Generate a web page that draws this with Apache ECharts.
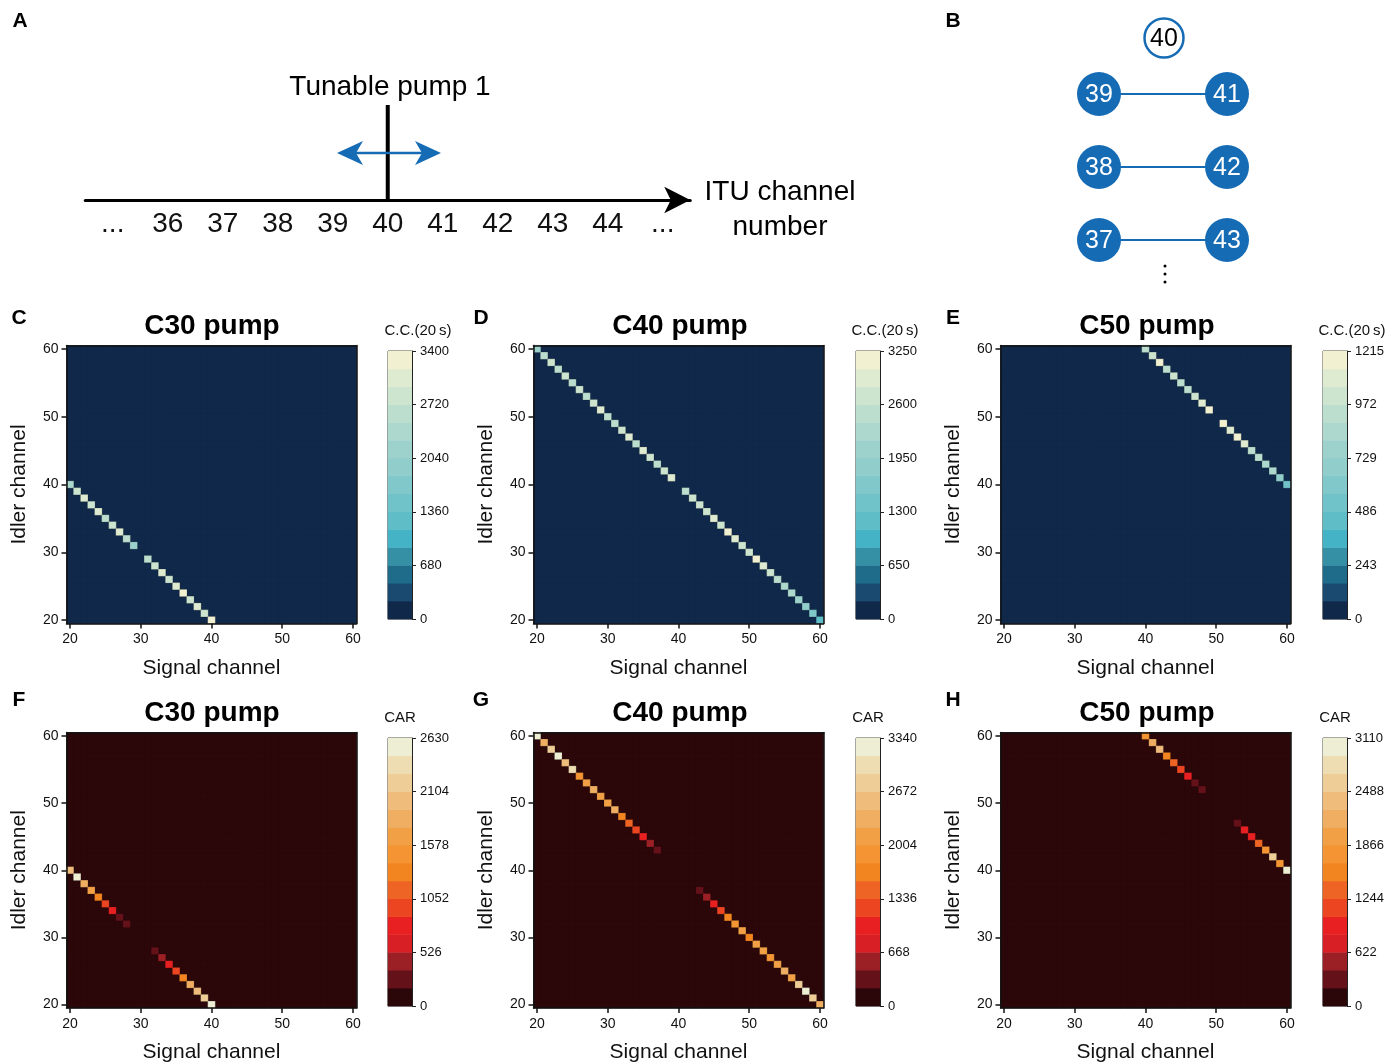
<!DOCTYPE html>
<html><head><meta charset="utf-8">
<script src="https://cdn.jsdelivr.net/npm/echarts@6/dist/echarts.min.js"></script>
<style>html,body{margin:0;padding:0;background:#fff}#chart{width:1390px;height:1064px}</style>
</head><body><div id="chart"></div>
<script>
// ---------- data ----------
const channels = [20,21,22,23,24,25,26,27,28,29,30,31,32,33,34,35,36,37,38,39,40,41,42,43,44,45,46,47,48,49,50,51,52,53,54,55,56,57,58,59,60];
const channelTicks = [20,30,40,50,60];
const ituLabels = ['...','36','37','38','39','40','41','42','43','44','...'];
const pumpLabelA = '40';
const bCenter = 40;
const bPairs = [[39,41],[38,42],[37,43]];

const ccC30Signal = [20,21,22,23,24,25,26,27,28,29,31,32,33,34,35,36,37,38,39,40];
const ccC30Value  = [2350,2850,3050,2850,3000,2600,2820,3050,2650,2250,2620,2850,3050,2880,3060,3300,2850,3080,2870,3400];
const ccC40Signal = [20,21,22,23,24,25,26,27,28,29,30,31,32,33,34,35,36,37,38,39,41,42,43,44,45,46,47,48,49,50,51,52,53,54,55,56,57,58,59,60];
const ccC40Value  = [2000,2400,2750,2550,2750,2550,2800,2550,2750,2950,2450,2550,2800,2950,2550,2950,2800,2550,2800,3000,2500,2600,2750,2750,2900,2800,3200,3000,2800,2750,3250,3000,2800,2550,2350,2300,2100,1900,1650,1200];
const ccC50Signal = [40,41,42,43,44,45,46,47,48,49,51,52,53,54,55,56,57,58,59,60];
const ccC50Value  = [940,1010,1180,930,1000,940,930,1020,1090,1215,1200,1100,1170,1120,940,920,860,850,700,500];

const carC30Signal = [20,21,22,23,24,25,26,27,28,32,33,34,35,36,37,38,39,40];
const carC30Value  = [2000,2630,1850,1680,1320,980,800,270,250,280,450,780,990,1400,1830,2020,2150,2500];
const carC40Signal = [20,21,22,23,24,25,26,27,28,29,30,31,32,33,34,35,36,37,43,44,45,46,47,48,49,50,51,52,53,54,55,56,57,58,59,60];
const carC40Value  = [3340,2330,2800,3250,2560,3050,1900,2120,2340,2100,2150,2350,1680,1450,1230,1000,560,330,320,540,1000,1230,1680,1900,2100,1700,2110,2130,1920,2120,2340,2140,2850,3300,2780,2350];
const carC50Signal = [40,41,42,43,44,45,46,47,48,53,54,55,56,57,58,59,60];
const carC50Value  = [1780,2180,2450,1560,1350,1140,940,300,280,290,930,900,1340,1760,2600,1800,3110];

const pumpChannels = [30,40,50];
const ccMax  = [3400,3250,1215];
const carMax = [2630,3340,3110];

const ccColors  = ['#10294a','#1a4a70','#1f6b8a','#3590a6','#45b3c6','#5ebdc7','#70c3c8','#80c8c9','#90cdcb','#9dd2cc','#acd8cd','#bcdece','#cde4cf','#dfebd0','#f1f0d1'];
const carColors = ['#2b0709','#65111a','#9b2026','#d81f26','#e82021','#ec4521','#ee6424','#f38520','#f49432','#f2a046','#f0ae62','#f0bc7c','#efcd96','#eedcb2','#eeeed4'];

// ---------- layout ----------
const FONT = "'Liberation Sans', Arial, Helvetica, sans-serif";
const heatLeft = [66.5, 533.5, 1000.5];
const heatTop = [345.5, 732.5];
const heatW = 290, heatH = 278;
const cbLeft = [388, 856, 1323];
const cbTop = [351, 738];
const cbW = 24, cbH = 268;
const titleX = [212, 680, 1147];
const titleY = [326, 713];
const letterX = [19, 481, 953];
const letterY = [318, 700];
const cbTitleX = [[418, 885, 1352], [400, 868, 1335]];
const cbTitleY = [331, 718];

const panels = [
  {letter:'C', pump:pumpChannels[0], signal:ccC30Signal, values:ccC30Value, max:ccMax[0], colors:ccColors, cbTitle:'C.C.(20\u2009s)'},
  {letter:'D', pump:pumpChannels[1], signal:ccC40Signal, values:ccC40Value, max:ccMax[1], colors:ccColors, cbTitle:'C.C.(20\u2009s)'},
  {letter:'E', pump:pumpChannels[2], signal:ccC50Signal, values:ccC50Value, max:ccMax[2], colors:ccColors, cbTitle:'C.C.(20\u2009s)'},
  {letter:'F', pump:pumpChannels[0], signal:carC30Signal, values:carC30Value, max:carMax[0], colors:carColors, cbTitle:'CAR'},
  {letter:'G', pump:pumpChannels[1], signal:carC40Signal, values:carC40Value, max:carMax[1], colors:carColors, cbTitle:'CAR'},
  {letter:'H', pump:pumpChannels[2], signal:carC50Signal, values:carC50Value, max:carMax[2], colors:carColors, cbTitle:'CAR'}
];

const chLabels = channels.map(String);
const isTick = (idx) => channelTicks.indexOf(channels[idx]) >= 0;
const grid = [], xAxis = [], yAxis = [], series = [], visualMap = [], graphic = [];
const AX = '#111';

panels.forEach((p, i) => {
  const col = i % 3, row = Math.floor(i / 3);
  const nb = p.colors.length, step = p.max / nb;
  // heat grid
  const gi = grid.length;
  grid.push({left: heatLeft[col], top: heatTop[row], width: heatW, height: heatH, show: true, backgroundColor: p.colors[0], borderWidth: 0});
  const xi = xAxis.length;
  xAxis.push({gridIndex: gi, type: 'category', data: chLabels, position: 'bottom', z: 5,
    axisLine: {show: true, onZero: false, lineStyle: {color: AX, width: 1.5}},
    axisTick: {show: true, alignWithLabel: true, interval: (idx) => isTick(idx), length: 5, lineStyle: {color: AX, width: 1.5}},
    axisLabel: {interval: (idx) => isTick(idx), fontSize: 14, color: AX, margin: 9, fontFamily: FONT},
    splitLine: {show: false},
    name: 'Signal channel', nameLocation: 'middle', nameGap: 34,
    nameTextStyle: {fontSize: 21, color: AX, fontFamily: FONT}});
  xAxis.push({gridIndex: gi, type: 'category', data: chLabels, position: 'top', z: 5,
    axisLine: {show: true, onZero: false, lineStyle: {color: AX, width: 1.5}}, axisTick: {show: false}, axisLabel: {show: false}, splitLine: {show: false}});
  const yi = yAxis.length;
  yAxis.push({gridIndex: gi, type: 'category', data: chLabels, position: 'left', z: 5,
    axisLine: {show: true, onZero: false, lineStyle: {color: AX, width: 1.5}},
    axisTick: {show: true, alignWithLabel: true, interval: (idx) => isTick(idx), length: 5, lineStyle: {color: AX, width: 1.5}},
    axisLabel: {interval: (idx) => isTick(idx), fontSize: 14, color: AX, margin: 8, fontFamily: FONT},
    splitLine: {show: false},
    name: 'Idler channel', nameLocation: 'middle', nameGap: 37, nameRotate: 90,
    nameTextStyle: {fontSize: 21, color: AX, fontFamily: FONT}});
  yAxis.push({gridIndex: gi, type: 'category', data: chLabels, position: 'right', z: 5,
    axisLine: {show: true, onZero: false, lineStyle: {color: AX, width: 1.5}}, axisTick: {show: false}, axisLabel: {show: false}, splitLine: {show: false}});

  const lookup = {};
  p.signal.forEach((s, k) => { lookup[s + '_' + (2 * p.pump - s)] = p.values[k]; });
  const zeros = [], marks = [];
  channels.forEach((s, a) => channels.forEach((c, b) => {
    const v = lookup[s + '_' + c];
    if (v === undefined) zeros.push([a, b, 0]);
    else marks.push({value: [a, b, v], itemStyle: {borderColor: 'rgba(0,0,0,0.22)', borderWidth: 0.7}});
  }));
  const hs = series.length;
  series.push({type: 'heatmap', xAxisIndex: xi, yAxisIndex: yi, data: zeros.concat(marks), progressive: 0, emphasis: {disabled: true}});

  // colorbar
  const cg = grid.length;
  grid.push({left: cbLeft[col], top: cbTop[row], width: cbW, height: cbH, show: true, borderColor: '#222', borderWidth: 1, backgroundColor: 'transparent'});
  const cxi = xAxis.length;
  xAxis.push({gridIndex: cg, type: 'category', data: ['c'], show: false});
  const cyi = yAxis.length;
  yAxis.push({gridIndex: cg, type: 'category', data: p.colors.map((c, k) => String(k)), show: false});
  yAxis.push({gridIndex: cg, type: 'value', position: 'right', min: 0, max: p.max, interval: p.max / 5, z: 5,
    axisLine: {show: true, lineStyle: {color: '#222', width: 1}},
    axisTick: {show: true, length: 4, lineStyle: {color: '#222', width: 1}},
    axisLabel: {fontSize: 13, color: AX, margin: 8, fontFamily: FONT, formatter: (v) => String(Math.round(v))},
    splitLine: {show: false}});
  const cs = series.length;
  series.push({type: 'heatmap', xAxisIndex: cxi, yAxisIndex: cyi, data: p.colors.map((c, k) => [0, k, (k + 0.5) * step]), emphasis: {disabled: true}});

  visualMap.push({type: 'piecewise', show: false, seriesIndex: [hs, cs], dimension: 2,
    pieces: p.colors.map((c, k) => k < nb - 1 ? {gte: k * step, lt: (k + 1) * step, color: c} : {gte: k * step, color: c})});

  graphic.push({type: 'text', x: letterX[col], y: letterY[row], style: {text: p.letter, font: 'bold 21px ' + FONT, fill: '#000', textAlign: 'center', textVerticalAlign: 'middle'}});
  graphic.push({type: 'text', x: titleX[col], y: titleY[row], style: {text: 'C' + p.pump + ' pump', font: 'bold 28px ' + FONT, fill: '#000', textAlign: 'center', textVerticalAlign: 'middle'}});
  graphic.push({type: 'text', x: cbTitleX[row][col], y: cbTitleY[row], style: {text: p.cbTitle, font: '15px ' + FONT, fill: '#111', textAlign: 'center', textVerticalAlign: 'middle'}});
});

// ---------- panel A ----------
const ga = grid.length;
grid.push({left: 85.25, top: 105, width: 605, height: 95});
const xa = xAxis.length;
xAxis.push({gridIndex: ga, type: 'category', data: ituLabels, boundaryGap: true, position: 'bottom',
  axisLine: {show: true, onZero: false, symbol: ['none', 'arrow'], symbolSize: [20, 26], lineStyle: {color: '#000', width: 3}},
  axisTick: {show: false}, axisLabel: {fontSize: 28, color: '#111', margin: 10, fontFamily: FONT, interval: 0}, splitLine: {show: false}});
const ya = yAxis.length;
yAxis.push({gridIndex: ga, type: 'value', min: 0, max: 1, show: false});
series.push({type: 'line', xAxisIndex: xa, yAxisIndex: ya, data: [[pumpLabelA, 0], [pumpLabelA, 1]], symbol: 'none', lineStyle: {color: '#000', width: 4}, z: 3});

const BLUE = '#166bb5';
graphic.push({type: 'text', x: 20, y: 21, style: {text: 'A', font: 'bold 21px ' + FONT, fill: '#000', textAlign: 'center', textVerticalAlign: 'middle'}});
graphic.push({type: 'text', x: 953, y: 21, style: {text: 'B', font: 'bold 21px ' + FONT, fill: '#000', textAlign: 'center', textVerticalAlign: 'middle'}});
graphic.push({type: 'text', x: 390, y: 87, style: {text: 'Tunable pump 1', font: '28px ' + FONT, fill: '#000', textAlign: 'center', textVerticalAlign: 'middle'}});
graphic.push({type: 'text', x: 780, y: 192, style: {text: 'ITU channel', font: '28px ' + FONT, fill: '#000', textAlign: 'center', textVerticalAlign: 'middle'}});
graphic.push({type: 'text', x: 780, y: 227, style: {text: 'number', font: '28px ' + FONT, fill: '#000', textAlign: 'center', textVerticalAlign: 'middle'}});
graphic.push({type: 'line', shape: {x1: 355, y1: 153, x2: 423, y2: 153}, style: {stroke: BLUE, lineWidth: 2.5}, z: 10});
graphic.push({type: 'polygon', shape: {points: [[337, 153], [363, 141], [356, 153], [363, 165]]}, style: {fill: BLUE}, z: 10});
graphic.push({type: 'polygon', shape: {points: [[441, 153], [415, 141], [422, 153], [415, 165]]}, style: {fill: BLUE}, z: 10});

// ---------- panel B ----------
const bLeftX = 1099, bRightX = 1227, bRowY = [94, 167, 240], bR = 22;
graphic.push({type: 'circle', shape: {cx: 1164, cy: 38, r: 19.5}, style: {fill: '#fff', stroke: BLUE, lineWidth: 2.5}});
graphic.push({type: 'text', x: 1164, y: 39, style: {text: String(bCenter), font: '25px ' + FONT, fill: '#000', textAlign: 'center', textVerticalAlign: 'middle'}});
bPairs.forEach((pr, k) => {
  const y = bRowY[k];
  graphic.push({type: 'line', shape: {x1: bLeftX, y1: y, x2: bRightX, y2: y}, style: {stroke: BLUE, lineWidth: 2}});
  [[bLeftX, pr[0]], [bRightX, pr[1]]].forEach(([x, n]) => {
    graphic.push({type: 'circle', shape: {cx: x, cy: y, r: bR}, style: {fill: BLUE}});
    graphic.push({type: 'text', x: x, y: y + 1, style: {text: String(n), font: '25px ' + FONT, fill: '#fff', textAlign: 'center', textVerticalAlign: 'middle'}});
  });
});
[266, 274, 282].forEach(y => graphic.push({type: 'circle', shape: {cx: 1165, cy: y, r: 1.5}, style: {fill: '#000'}}));

const chart = echarts.init(document.getElementById('chart'), null, {renderer: 'canvas'});
chart.setOption({backgroundColor: '#fff', animation: false, grid, xAxis, yAxis, series, visualMap, graphic});
</script></body></html>
